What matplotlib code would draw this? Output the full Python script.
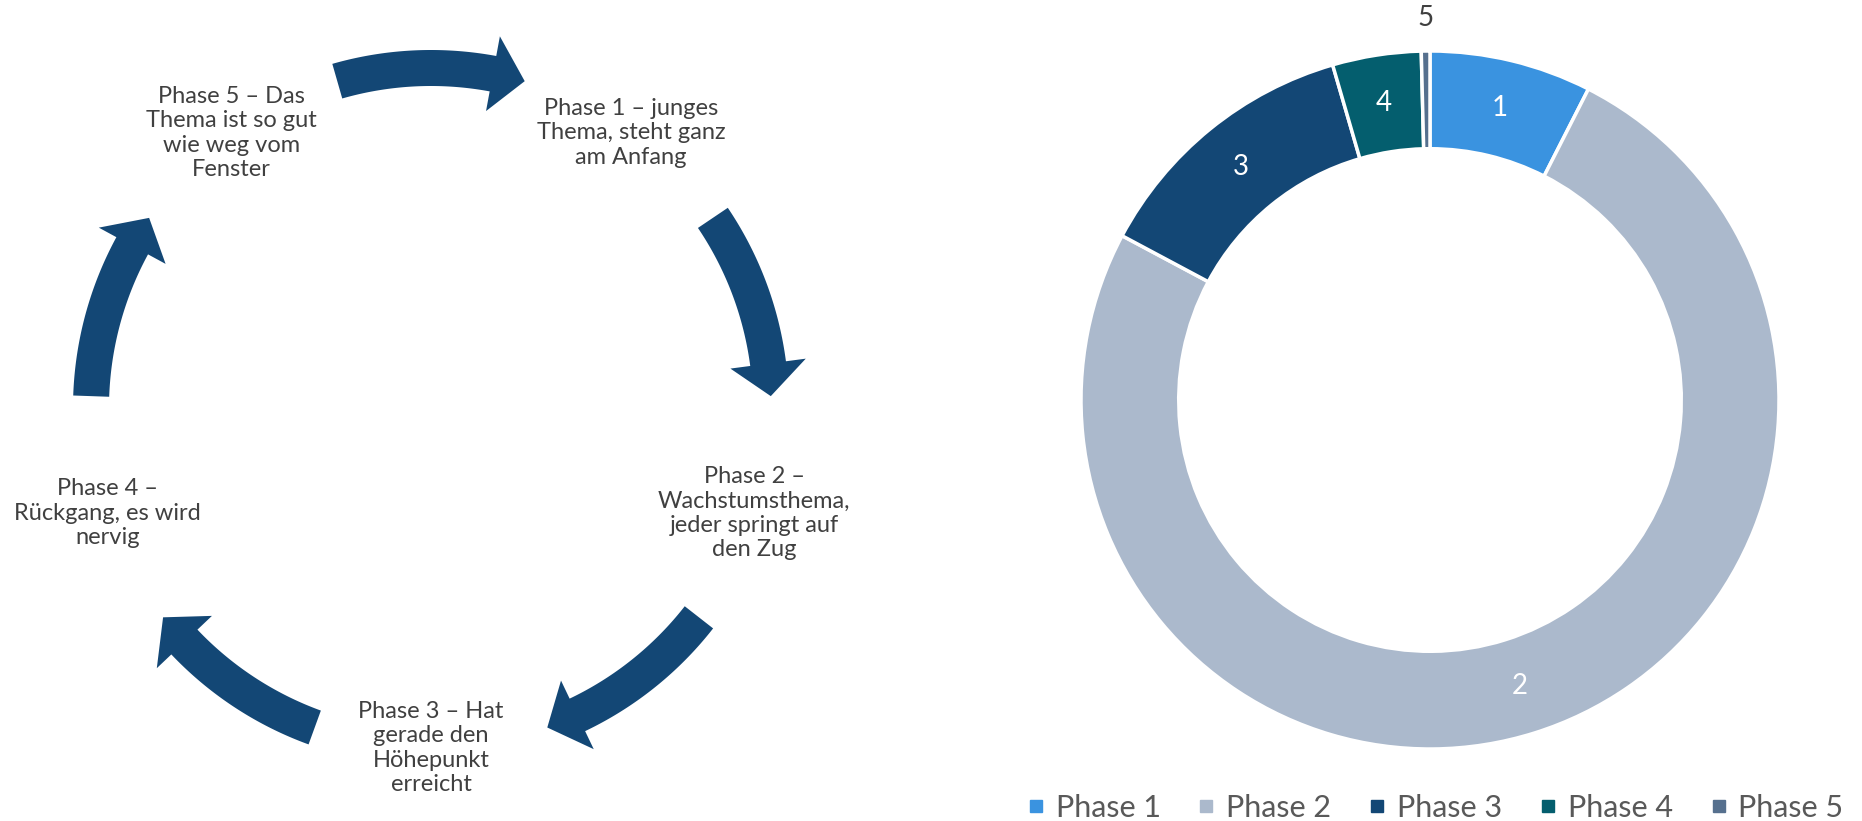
import numpy as np
import matplotlib.pyplot as plt
from matplotlib.patches import Polygon
from matplotlib.lines import Line2D

plt.rcParams['font.family'] = ['Lato', 'DejaVu Sans']

# donut data
phases = ["Phase 1", "Phase 2", "Phase 3", "Phase 4", "Phase 5"]
shares = [7.5, 75.3, 12.7, 4.1, 0.4]
slice_labels = ["1", "2", "3", "4", "5"]
colors = ["#3a93e0", "#abb9cc", "#134775", "#045e6e", "#56708e"]

# cycle diagram texts
cycle_texts = [
    "Phase 1 – junges\nThema, steht ganz\nam Anfang",
    "Phase 2 –\nWachstumsthema,\njeder springt auf\nden Zug",
    "Phase 3 – Hat\ngerade den\nHöhepunkt\nerreicht",
    "Phase 4 –\nRückgang, es wird\nnervig",
    "Phase 5 – Das\nThema ist so gut\nwie weg vom\nFenster",
]

arrow_col = "#134775"
text_col = "#404040"

fig = plt.figure(figsize=(18.62, 8.21), dpi=100)

# ---- left: cycle ----
ax1 = fig.add_axes([0, 0, 931 / 1862, 1])
ax1.set_xlim(0, 931)
ax1.set_ylim(821, 0)
ax1.axis("off")

cx, cy, R = 431, 408, 340


def curved_arrow(ax, a_from, a_to, half_w=18, head_hw=38, head_deg=5.5):
    a_base = a_to + head_deg
    t = np.radians(np.linspace(a_from, a_base, 50))
    outer = np.c_[cx + (R + half_w) * np.cos(t), cy - (R + half_w) * np.sin(t)]
    inner = np.c_[cx + (R - half_w) * np.cos(t), cy - (R - half_w) * np.sin(t)][::-1]
    b = np.radians(a_base)
    tip = np.radians(a_to)
    head = [[cx + (R + head_hw) * np.cos(b), cy - (R + head_hw) * np.sin(b)],
            [cx + R * np.cos(tip), cy - R * np.sin(tip)],
            [cx + (R - head_hw) * np.cos(b), cy - (R - head_hw) * np.sin(b)]]
    pts = np.vstack([outer, head, inner])
    ax.add_patch(Polygon(pts, closed=True, facecolor=arrow_col, edgecolor="none"))


n = len(cycle_texts)
for i, txt in enumerate(cycle_texts):
    a = 54 - 360 / n * i
    ax1.text(cx + R * np.cos(np.radians(a)), cy - R * np.sin(np.radians(a)), txt,
             ha="center", va="center", fontsize=17, color=text_col, linespacing=1.2)
    mid = 90 - 360 / n * i
    curved_arrow(ax1, mid + 16, mid - 16)

# ---- right: donut ----
ocx, ocy, orad = 1430, 400, 349
ax2 = fig.add_axes([(ocx - orad) / 1862, (821 - ocy - orad) / 821, 2 * orad / 1862, 2 * orad / 821])
wedges, _ = ax2.pie(shares, colors=colors, startangle=90, counterclock=False, radius=1,
                    wedgeprops=dict(width=0.28, edgecolor="white", linewidth=2.5))
ax2.set_xlim(-1, 1)
ax2.set_ylim(-1, 1)
ax2.axis("off")

for w, lab in zip(wedges, slice_labels):
    ang = np.radians((w.theta1 + w.theta2) / 2)
    if w.theta2 - w.theta1 < 3:
        ax2.text(1.095 * np.cos(ang), 1.095 * np.sin(ang), lab, ha="center", va="center",
                 fontsize=20, color=text_col)
    else:
        ax2.text(0.86 * np.cos(ang), 0.86 * np.sin(ang), lab, ha="center", va="center",
                 fontsize=20, color="white")

handles = [Line2D([], [], marker="s", linestyle="none", markersize=9, color=c) for c in colors]
fig.legend(handles, phases, loc="center", bbox_to_anchor=(1435 / 1862, 13 / 821), ncol=5,
           frameon=False, fontsize=22, handlelength=0.6, handletextpad=0.35,
           columnspacing=1.2, labelcolor="#595959")

fig.savefig("out.png", dpi=100)
